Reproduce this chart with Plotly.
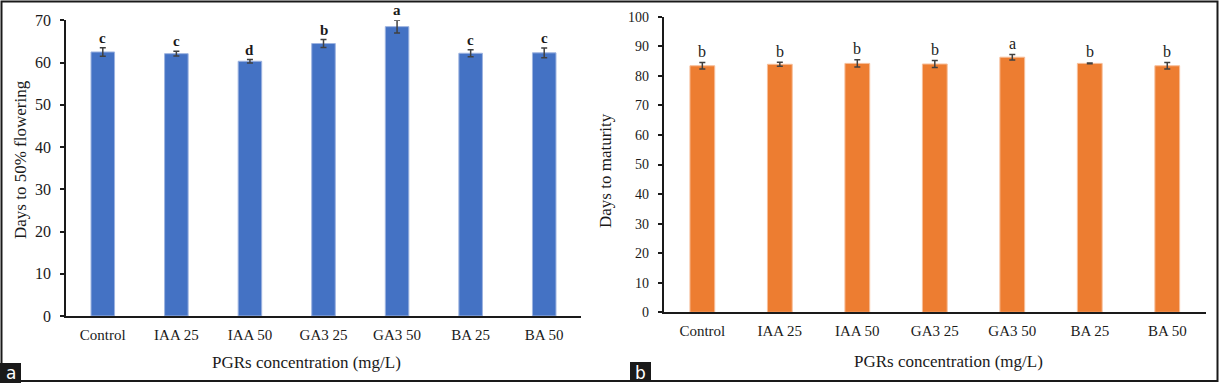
import plotly.graph_objects as go

categories = ["Control", "IAA 25", "IAA 50", "GA3 25", "GA3 50", "BA 25", "BA 50"]
flowering = [62.5, 62.1, 60.3, 64.5, 68.5, 62.2, 62.3]
flowering_err = [1.0, 0.55, 0.4, 0.95, 1.5, 0.8, 1.15]
flowering_letters = ["c", "c", "d", "b", "a", "c", "c"]
maturity = [83.4, 83.9, 84.2, 84.0, 86.3, 84.2, 83.4]
maturity_err = [1.1, 0.7, 1.2, 1.2, 0.95, 0.15, 1.1]
maturity_letters = ["b", "b", "b", "b", "a", "b", "b"]

W, H = 1219, 383
SERIF = "Liberation Serif, Times New Roman, serif"
TXT = "#1a1a1a"

def px(x):
    return x / W

def py(y):
    return (H - y) / H

fig = go.Figure()
fig.add_trace(go.Bar(
    x=categories, y=flowering, xaxis="x", yaxis="y",
    marker=dict(color="#4472C4", line=dict(color="#9DB3E0", width=1)),
    error_y=dict(type="data", array=flowering_err, color="#404040", thickness=1.5, width=3),
    showlegend=False, hoverinfo="x+y",
))
fig.add_trace(go.Bar(
    x=categories, y=maturity, xaxis="x2", yaxis="y2",
    marker=dict(color="#ED7D31", line=dict(color="#F7BE99", width=1)),
    error_y=dict(type="data", array=maturity_err, color="#404040", thickness=1.5, width=3),
    showlegend=False, hoverinfo="x+y",
))

annotations = []
for c, v, e, t in zip(categories, flowering, flowering_err, flowering_letters):
    annotations.append(dict(x=c, y=v + e, xref="x", yref="y", text="<b>%s</b>" % t,
                            showarrow=False, yanchor="middle", yshift=10,
                            font=dict(family=SERIF, size=15, color=TXT)))
for c, v, e, t in zip(categories, maturity, maturity_err, maturity_letters):
    annotations.append(dict(x=c, y=v + e, xref="x2", yref="y2", text=t,
                            showarrow=False, yanchor="middle", yshift=11,
                            font=dict(family=SERIF, size=16, color=TXT)))

annotations += [
    dict(x=px(306), y=py(362), xref="paper", yref="paper", text="PGRs concentration (mg/L)",
         showarrow=False, xanchor="center", yanchor="middle",
         font=dict(family=SERIF, size=17, color=TXT)),
    dict(x=px(948), y=py(361), xref="paper", yref="paper", text="PGRs concentration (mg/L)",
         showarrow=False, xanchor="center", yanchor="middle",
         font=dict(family=SERIF, size=17, color=TXT)),
    dict(x=px(20), y=py(160), xref="paper", yref="paper", text="Days to 50% flowering",
         showarrow=False, xanchor="center", yanchor="middle", textangle=-90,
         font=dict(family=SERIF, size=17, color=TXT)),
    dict(x=px(605), y=py(171), xref="paper", yref="paper", text="Days to maturity",
         showarrow=False, xanchor="center", yanchor="middle", textangle=-90,
         font=dict(family=SERIF, size=17, color=TXT)),
    dict(x=px(10.5), y=py(373), xref="paper", yref="paper", text="a",
         showarrow=False, xanchor="center", yanchor="middle",
         font=dict(family="DejaVu Sans, Arial, sans-serif", size=17, color="white")),
    dict(x=px(640.5), y=py(372.5), xref="paper", yref="paper", text="b",
         showarrow=False, xanchor="center", yanchor="middle",
         font=dict(family="DejaVu Sans, Arial, sans-serif", size=17, color="white")),
]

shapes = [
    dict(type="rect", xref="paper", yref="paper", x0=px(1.5), x1=px(1217.5), y0=py(381), y1=py(1.5),
         line=dict(color="#1a1a1a", width=2), fillcolor="rgba(0,0,0,0)", layer="below"),
    dict(type="rect", xref="paper", yref="paper", x0=px(0), x1=px(21), y0=py(383), y1=py(363),
         line=dict(width=0), fillcolor="#1a1a1a"),
    dict(type="rect", xref="paper", yref="paper", x0=px(630), x1=px(651), y0=py(382), y1=py(362),
         line=dict(width=0), fillcolor="#1a1a1a"),
]

xcommon = dict(type="category", showgrid=False, showline=True, linecolor="#1a1a1a", linewidth=2,
               ticks="", ticklabelstandoff=4, tickfont=dict(family=SERIF, size=15, color=TXT),
               zeroline=False, automargin=False)
ycommon = dict(showgrid=False, showline=True, linecolor="#1a1a1a", linewidth=1.5,
               ticks="outside", ticklen=4, tickwidth=1.5, tickcolor="#1a1a1a",
               ticklabelstandoff=6, zeroline=False, dtick=10, automargin=False)

fig.update_layout(
    width=W, height=H,
    margin=dict(l=0, r=0, t=0, b=0, pad=0, autoexpand=False),
    paper_bgcolor="white", plot_bgcolor="white",
    bargap=0.68,
    xaxis=dict(domain=[px(66), px(581)], anchor="y", **xcommon),
    yaxis=dict(domain=[py(316), py(20.3)], anchor="x", range=[0, 70],
               tickfont=dict(family=SERIF, size=16, color=TXT), **ycommon),
    xaxis2=dict(domain=[px(663.6), px(1206)], anchor="y2", **xcommon),
    yaxis2=dict(domain=[py(312.3), py(16.7)], anchor="x2", range=[0, 100],
                tickfont=dict(family=SERIF, size=14, color=TXT), **ycommon),
    annotations=annotations,
    shapes=shapes,
)

fig.write_html("out.html", config={"displayModeBar": False},
               post_script="document.body.style.margin='0';document.body.style.overflow='hidden';")
